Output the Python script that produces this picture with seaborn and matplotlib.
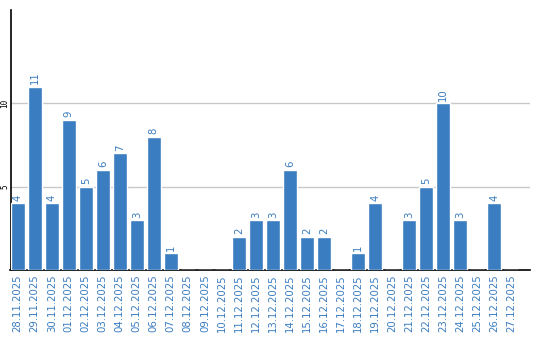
import matplotlib
matplotlib.use("Agg")
import matplotlib.pyplot as plt
import seaborn as sns
import pandas as pd

dates = ["28.11.2025", "29.11.2025", "30.11.2025", "01.12.2025", "02.12.2025",
         "03.12.2025", "04.12.2025", "05.12.2025", "06.12.2025", "07.12.2025",
         "08.12.2025", "09.12.2025", "10.12.2025", "11.12.2025", "12.12.2025",
         "13.12.2025", "14.12.2025", "15.12.2025", "16.12.2025", "17.12.2025",
         "18.12.2025", "19.12.2025", "20.12.2025", "21.12.2025", "22.12.2025",
         "23.12.2025", "24.12.2025", "25.12.2025", "26.12.2025", "27.12.2025"]
values = [4, 11, 4, 9, 5, 6, 7, 3, 8, 1, 0, 0, 0, 2, 3, 3, 6, 2, 2, 0,
          1, 4, 0, 3, 5, 10, 3, 0, 4, 0]
yticks = [5, 10]

blue = "#3b7dc1"
df = pd.DataFrame({"date": dates, "value": values})

sns.set_style("white")
plt.rcParams['font.family'] = ['DejaVu Sans']

fig = plt.figure(figsize=(5.4, 3.4), dpi=100)
ax = fig.add_axes([10.5/540, 1-270/340, (530-10.5)/540, 260/340])
sns.barplot(data=df, x="date", y="value", color=blue, saturation=1,
            width=0.82, ax=ax, zorder=3)

for i, v in enumerate(values):
    if v > 0:
        ax.text(i, v + 0.15, str(v), rotation=90, ha="center", va="bottom",
                color=blue, fontsize=7.3)

ax.set_xlim(-0.42, 30.1)
ax.set_ylim(0, 15.6)
ax.set_yticks(yticks)
ax.set_yticklabels([str(t) for t in yticks], rotation=90, va="center",
                   fontsize=5.5, color="black", family="DejaVu Sans Mono")
ax.tick_params(axis="y", length=0, pad=1)
ax.tick_params(axis="x", length=0, pad=3)
plt.setp(ax.get_xticklabels(), rotation=90, color=blue, fontsize=7.3)
ax.set_xlabel("")
ax.set_ylabel("")
ax.grid(axis="y", color="#c8c8c8", linewidth=1, zorder=0)
for s in ["top", "right"]:
    ax.spines[s].set_visible(False)
ax.spines["left"].set_color("black")
ax.spines["bottom"].set_color("black")
ax.spines["left"].set_linewidth(1.2)
ax.spines["bottom"].set_linewidth(1.2)

fig.savefig("out.png", dpi=100)
